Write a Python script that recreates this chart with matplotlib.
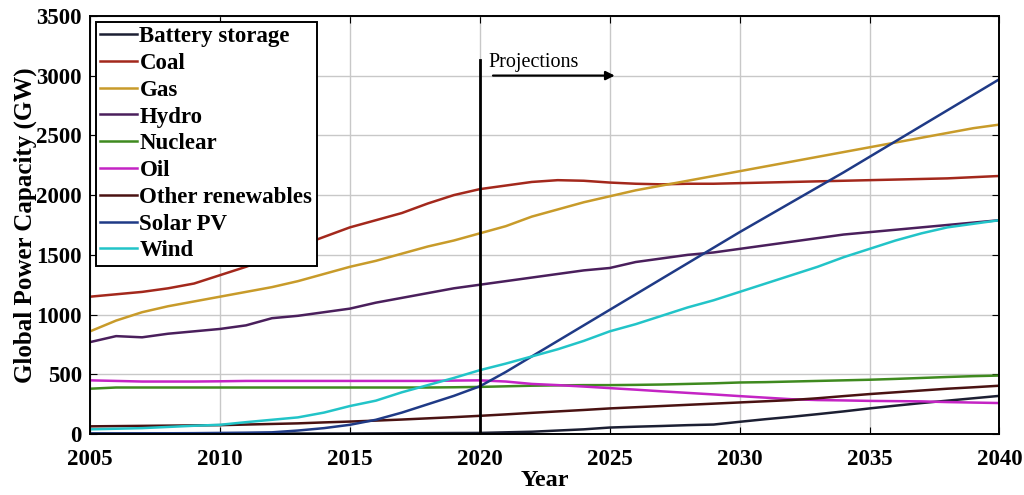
import numpy as np
import matplotlib
matplotlib.use("Agg")
import matplotlib.pyplot as plt

plt.rcParams["font.family"] = ["Liberation Serif", "DejaVu Serif"]

years = np.arange(2005, 2041)

battery = [5, 5, 5, 5, 5, 5, 5, 5, 5, 5, 5, 6, 7, 8, 9, 10,
           15, 20, 30, 40, 55, 62, 68, 75, 80, 103, 125, 145, 167, 190,
           215, 238, 260, 280, 300, 320]
coal = [1150, 1170, 1190, 1220, 1260, 1330, 1400, 1480, 1570, 1650, 1730,
        1790, 1850, 1930, 2000, 2050, 2080, 2110, 2125, 2120, 2105, 2095,
        2090, 2095, 2095, 2100, 2105, 2110, 2115, 2120, 2125, 2130, 2135,
        2140, 2150, 2160]
gas = [860, 950, 1020, 1070, 1110, 1150, 1190, 1230, 1280, 1340, 1400,
       1450, 1510, 1570, 1620, 1680, 1740, 1820, 1880, 1940, 1990, 2040,
       2080, 2120, 2160, 2200, 2240, 2280, 2320, 2360, 2400, 2440, 2480,
       2520, 2560, 2590]
hydro = [770, 820, 810, 840, 860, 880, 910, 970, 990, 1020, 1050, 1100,
         1140, 1180, 1220, 1250, 1280, 1310, 1340, 1370, 1390, 1440, 1470,
         1500, 1520, 1550, 1580, 1610, 1640, 1670, 1690, 1710, 1730, 1750,
         1770, 1790]
nuclear = [380, 390, 390, 390, 390, 390, 390, 390, 390, 390, 390, 390, 390,
           390, 392, 395, 400, 405, 408, 410, 410, 412, 415, 420, 425, 432,
           435, 440, 445, 450, 455, 462, 470, 478, 485, 490]
oil = [450, 445, 440, 440, 440, 442, 445, 445, 445, 445, 445, 445, 445,
       445, 448, 450, 440, 420, 410, 398, 385, 372, 358, 345, 332, 318,
       305, 292, 285, 282, 278, 276, 274, 268, 264, 260]
other = [65, 67, 69, 71, 73, 75, 80, 85, 90, 98, 105, 113, 122, 132, 142,
         153, 165, 178, 190, 202, 215, 225, 235, 245, 255, 265, 275, 285,
         300, 318, 335, 350, 365, 380, 392, 405]
solar = [5, 5, 6, 7, 8, 10, 12, 15, 30, 50, 78, 120, 180, 250, 320, 400,
         520, 650, 780, 910, 1040, 1170, 1300, 1430, 1560, 1690, 1815,
         1940, 2065, 2190, 2320, 2450, 2580, 2710, 2840, 2970]
wind = [40, 45, 50, 60, 70, 78, 100, 120, 140, 180, 235, 280, 350, 410,
        470, 535, 590, 650, 710, 780, 860, 920, 990, 1060, 1120, 1190,
        1260, 1330, 1400, 1480, 1550, 1620, 1680, 1730, 1760, 1790]

labels = ["Battery storage", "Coal", "Gas", "Hydro", "Nuclear", "Oil",
          "Other renewables", "Solar PV", "Wind"]
series = [battery, coal, gas, hydro, nuclear, oil, other, solar, wind]
colors = ["#1c1f33", "#a3281c", "#c89b2a", "#4a1f5c", "#3f8a1f",
          "#c424c4", "#4a1212", "#1f3a86", "#22c4c8"]

fig = plt.figure(figsize=(10.24, 4.95), dpi=100)
ax = fig.add_axes([0.088, 0.123, 0.888, 0.845])

for vals, lab, col in zip(series, labels, colors):
    ax.plot(years, vals, color=col, lw=1.8, label=lab)

# start of projected values
ax.plot([2020, 2020], [0, 3130], color="black", lw=2)
ax.annotate("", xy=(2025.3, 3000), xytext=(2020.4, 3000),
            arrowprops=dict(arrowstyle="-|>", color="black", lw=1.6,
                            mutation_scale=13))
ax.text(2020.35, 3110, "Projections", fontsize=14.5, va="center", ha="left")

ax.set_xlim(2005, 2040)
ax.set_ylim(0, 3500)
ax.set_xticks(np.arange(2005, 2041, 5))
ax.set_yticks(np.arange(0, 3501, 500))
ax.grid(True, color="#c8c8c8", lw=1.0)
ax.tick_params(direction="in", top=True, right=True, length=5,
               labelsize=16.5)
ax.tick_params(axis="x", pad=11)
ax.tick_params(axis="y", pad=6)
for lab in ax.get_xticklabels() + ax.get_yticklabels():
    lab.set_fontweight("bold")
for sp in ax.spines.values():
    sp.set_linewidth(1.4)

ax.set_xlabel("Year", fontsize=17.5, fontweight="bold", labelpad=0)
ax.set_ylabel("Global Power Capacity (GW)", fontsize=18, fontweight="bold",
              labelpad=-0.5)

leg = ax.legend(loc="upper left", prop={"weight": "bold", "size": 16.5},
                fancybox=False, edgecolor="black", framealpha=1,
                handlelength=1.6, handletextpad=0.1, labelspacing=0.25,
                borderaxespad=0.25, borderpad=0.2)
leg.get_frame().set_linewidth(1.4)

fig.savefig("out.png", dpi=100)
